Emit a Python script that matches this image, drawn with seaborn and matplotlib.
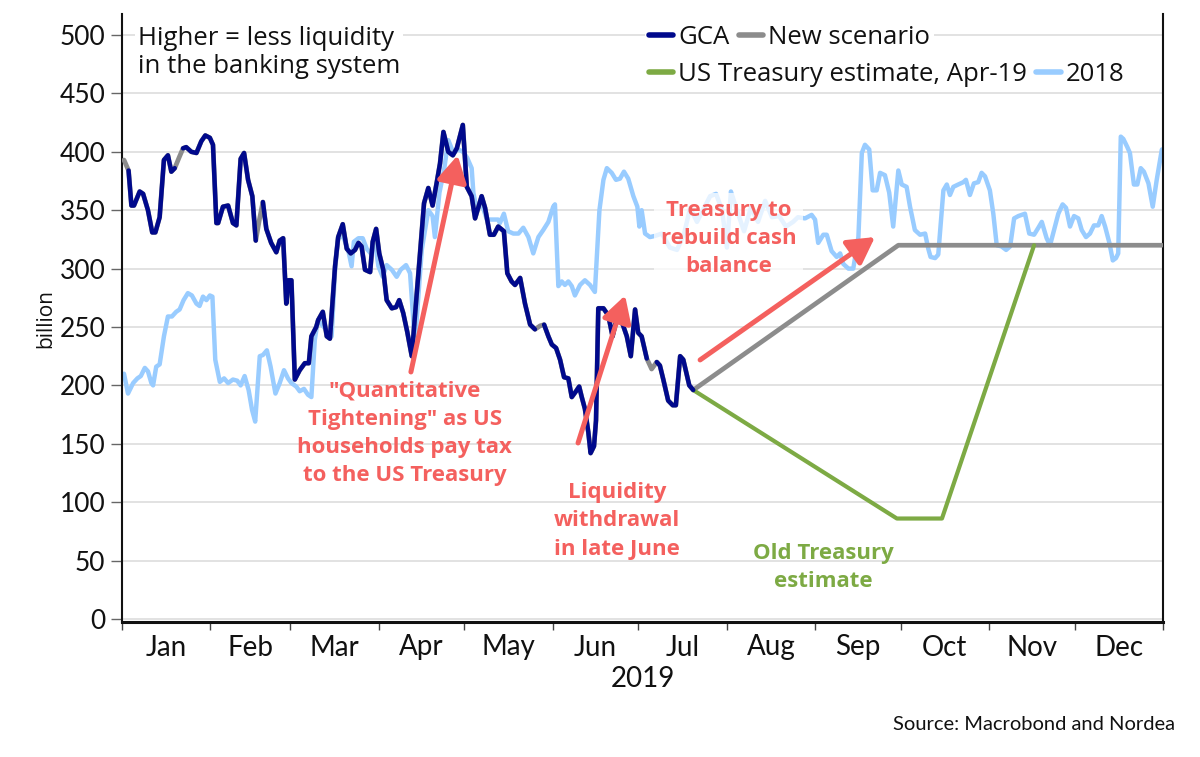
import numpy as np
import pandas as pd
import matplotlib
matplotlib.use("Agg")
import matplotlib.pyplot as plt
import seaborn as sns
from matplotlib.lines import Line2D

# ---------------- data ----------------
month_labels = ["Jan", "Feb", "Mar", "Apr", "May", "Jun",
                "Jul", "Aug", "Sep", "Oct", "Nov", "Dec"]
month_start_days = [0, 31, 59, 90, 120, 151, 181, 212, 243, 273, 304, 334, 365]
y_ticks = [0, 50, 100, 150, 200, 250, 300, 350, 400, 450, 500]

gca_day = [0.7, 2.3, 3.3, 4.2, 6.2, 7.4, 9.1, 10.6, 11.7, 13.2, 14.7, 16.1, 17.3, 18.5,
           20.0, 21.4, 22.5, 24.3, 26.1, 27.8, 29.2, 30.8, 31.9, 33.1, 33.7, 35.4, 37.2,
           38.9, 40.1, 41.6, 42.8, 44.2, 45.7, 46.9, 48.1, 49.4, 50.6, 52.3, 54.1, 55.3,
           56.5, 57.6, 58.4, 59.4, 60.6, 62.3, 64.1, 65.5, 66.4, 68.1, 68.8, 70.4, 71.8,
           72.9, 74.7, 75.8, 77.4, 78.8, 80.2, 81.7, 82.9, 84.0, 85.2, 87.0, 87.9, 89.1,
           90.2, 91.6, 92.8, 94.6, 96.1, 97.2, 98.6, 100.0, 101.6, 102.7, 104.5, 105.9,
           107.4, 108.9, 110.3, 111.5, 112.7, 114.4, 116.0, 117.4, 119.5, 120.9, 122.6,
           123.8, 126.1, 127.3, 129.0, 130.4, 131.9, 133.9, 135.1, 136.6, 137.8, 139.6,
           141.3, 143.1, 144.8, 146.6, 148.0, 149.5, 150.7, 152.2, 153.6, 155.0, 156.5,
           157.7, 159.2, 160.3, 161.2, 162.3, 163.5, 164.3, 165.5, 166.2, 167.0, 168.8,
           170.5, 172.0, 174.0, 175.6, 177.0, 178.4, 179.9, 181.0, 182.2, 184.0, 185.7,
           187.5, 188.6, 189.8, 191.5, 193.1, 194.2, 195.7, 196.8, 198.9, 200.3]
gca_val = [393, 384, 354, 354, 366, 364, 350, 331, 331, 344, 393, 397, 383, 386,
           395, 403, 404, 400, 399, 409, 414, 412, 406, 339, 339, 353, 354,
           339, 337, 394, 399, 376, 362, 324, 341, 357, 334, 322, 314, 324,
           326, 270, 290, 290, 205, 213, 219, 219, 242, 250, 256, 263, 242,
           240, 302, 327, 338, 317, 313, 316, 322, 319, 299, 297, 323, 334,
           313, 299, 273, 266, 267, 273, 262, 246, 225, 259, 313, 356,
           369, 354, 373, 390, 417, 400, 397, 403, 423, 370, 362,
           343, 362, 352, 329, 329, 336, 332, 296, 289, 286, 292,
           270, 252, 248, 251, 252, 242, 235, 232, 222, 207, 206,
           190, 195, 199, 190, 180, 160, 142, 148, 170, 266, 266,
           260, 242, 263, 252, 242, 225, 265, 245, 242, 223, 214,
           220, 217, 205, 187, 183, 183, 225, 222, 200, 196]
# days where GCA has no print (bridged by the new-scenario line)
gca_break_days = [0.7, 20.0, 48.1, 146.6, 185.7]

new_scenario_day = [200.3, 272.2, 364.6]
new_scenario_val = [196, 320, 320]

treasury_day = [200.3, 271.7, 287.5, 319.8]
treasury_val = [196, 86, 86, 320]

y2018_day = [0.7, 2.1, 3.9, 5.4, 6.6, 8.0, 9.1, 10.3, 10.9, 12.0, 13.2, 14.7, 16.1, 17.5,
             19.0, 20.2, 21.6, 23.1, 24.5, 26.1, 27.2, 28.4, 29.6, 30.8, 31.7, 32.7, 34.3,
             35.8, 37.2, 38.9, 40.4, 41.6, 43.0, 44.4, 45.6, 46.7, 48.3, 49.4, 50.8, 52.1,
             53.8, 55.3, 56.8, 58.2, 59.4, 61.1, 62.3, 63.8, 65.2, 66.4, 67.6, 68.7, 71.8,
             73.5, 74.7, 75.8, 77.6, 79.3, 80.5, 81.3, 82.9, 84.4, 85.8, 87.2, 88.7, 89.9,
             91.4, 92.8, 94.6, 96.3, 97.7, 99.6, 101.0, 102.7, 105.1, 107.4, 108.9, 109.7,
             111.3, 112.9, 114.4, 116.2, 117.9, 119.6, 121.0, 122.6, 123.2, 124.4, 126.1,
             127.9, 129.6, 131.9, 132.5, 133.9, 135.4, 137.2, 139.0, 140.7, 142.5, 144.2,
             146.0, 147.7, 149.5, 151.2, 151.8, 153.0, 154.2, 155.3, 156.5, 157.7, 158.8,
             160.6, 162.3, 164.1, 165.8, 167.4, 168.8, 170.0, 171.7, 173.2, 174.6, 176.0,
             177.5, 179.3, 180.7, 181.4, 182.2, 183.4, 185.1, 186.9, 189.3, 192.1, 194.6,
             197.1, 199.2, 201.6, 203.7, 206.2, 208.3, 210.4, 212.1, 213.5, 215.6, 218.1,
             220.5, 223.0, 225.5, 227.9, 230.4, 232.8, 235.3, 237.0, 239.5, 241.8, 243.0,
             244.1, 245.9, 247.1, 248.8, 250.6, 251.8, 252.9, 254.7, 256.4, 258.2, 259.4,
             260.5, 262.0, 263.2, 264.6, 265.8, 267.5, 269.0, 270.4, 272.2, 273.4, 275.1,
             276.3, 278.0, 279.8, 281.6, 282.7, 283.5, 285.1, 286.2, 288.0, 289.2, 290.3,
             291.5, 293.2, 295.0, 295.9, 297.3, 298.7, 300.2, 301.4, 302.6, 304.3, 305.5,
             306.7, 308.4, 310.0, 311.4, 312.8, 314.3, 316.6, 318.1, 319.8, 321.3, 322.5,
             324.2, 325.4, 326.8, 328.3, 329.8, 331.0, 332.4, 333.8, 335.3, 336.5, 338.0,
             339.4, 340.8, 342.3, 343.5, 344.7, 346.2, 347.4, 348.5, 349.3, 350.2, 351.1,
             352.5, 353.4, 354.8, 356.0, 357.2, 358.3, 359.9, 361.4, 362.8, 364.6]
y2018_val = [210, 193, 202, 206, 208, 215, 212, 202, 200, 216, 218, 242, 259, 259,
             263, 265, 273, 279, 277, 270, 268, 276, 273, 277, 276, 222, 203,
             206, 202, 205, 204, 200, 208, 196, 179, 169, 225, 226, 230, 216,
             193, 202, 213, 206, 202, 199, 195, 197, 192, 190, 239, 256, 247,
             242, 299, 327, 327, 316, 302, 323, 326, 326, 317, 313, 323, 302,
             293, 303, 299, 293, 299, 303, 296, 236, 316, 350, 345, 327,
             365, 384, 410, 399, 402, 400, 395, 386, 365, 350, 356,
             342, 342, 342, 339, 347, 332, 330, 330, 335, 327, 313,
             327, 333, 340, 353, 355, 285, 289, 286, 289, 285, 277,
             286, 290, 286, 280, 350, 376, 386, 382, 376, 377, 383,
             377, 362, 353, 336, 350, 330, 327, 328, 330, 318, 316,
             330, 352, 340, 350, 362, 364, 350, 318, 366, 350, 332,
             352, 340, 358, 344, 345, 336, 340, 344, 343, 346, 342,
             322, 329, 329, 315, 310, 313, 304, 300, 300, 327, 399,
             406, 402, 367, 367, 382, 380, 365, 336, 384, 372, 370,
             353, 333, 329, 330, 317, 310, 309, 312, 367, 372, 363,
             370, 372, 374, 376, 363, 373, 374, 382, 379, 367, 347,
             320, 319, 316, 319, 343, 345, 347, 330, 329, 335, 340,
             326, 320, 333, 347, 355, 352, 336, 345, 343, 333, 327,
             330, 337, 337, 345, 336, 322, 307, 309, 313, 413, 411,
             404, 399, 372, 372, 386, 383, 373, 353, 376, 402]

# ---------------- style ----------------
sns.set_theme(style="white")
plt.rcParams["font.family"] = ["Lato", "DejaVu Sans"]
TXT_FONT = ["Open Sans", "DejaVu Sans"]

NAVY = "#00098C"
GRAY = "#8C8C8C"
GREEN = "#7DAA44"
LIGHT = "#99CCFF"
RED = "#F4605E"

fig = plt.figure(figsize=(12, 7.57), dpi=100)
ax = fig.add_axes([122 / 1200, 1 - 622 / 757, 1041 / 1200, 608 / 757])

# 2018 (bottom layer)
sns.lineplot(x=y2018_day, y=y2018_val, color=LIGHT, lw=3.2, estimator=None,
             sort=False, ax=ax, zorder=2)

# new scenario: bridges GCA gaps and projects forward
ns_day = gca_day + new_scenario_day[1:]
ns_val = gca_val + new_scenario_val[1:]
sns.lineplot(x=ns_day, y=ns_val, color=GRAY, lw=3.4, estimator=None,
             sort=False, ax=ax, zorder=3)

# US Treasury estimate
sns.lineplot(x=treasury_day, y=treasury_val, color=GREEN, lw=3.0, estimator=None,
             sort=False, ax=ax, zorder=3)

# GCA in segments (break at missing prints)
seg, seg_ids, keep = 0, [], []
for d in gca_day:
    if d in gca_break_days:
        seg += 1
        keep.append(False)
    else:
        keep.append(True)
    seg_ids.append(seg)
gca_df = pd.DataFrame({"day": gca_day, "val": gca_val, "seg": seg_ids})[keep]
sns.lineplot(data=gca_df, x="day", y="val", units="seg", estimator=None,
             color=NAVY, lw=3.2, sort=False, ax=ax, zorder=4)

# ---------------- axes ----------------
ax.set_xlim(0, 365)
ax.set_ylim(-2.6, 518)
ax.set_yticks(y_ticks)
ax.set_yticklabels([str(v) for v in y_ticks])
ax.set_xticks(month_start_days)
ax.set_xticklabels([""] * len(month_start_days))
mids = [(month_start_days[i] + month_start_days[i + 1]) / 2 for i in range(12)]
ax.set_xticks(mids, minor=True)
ax.set_xticklabels(month_labels, minor=True)
ax.tick_params(axis="x", which="major", length=6, width=1, color="#444444",
               direction="out", bottom=True)
ax.tick_params(axis="x", which="minor", length=0, labelsize=20, pad=9, colors="#111111")
ax.tick_params(axis="y", length=8, width=1, color="#666666", direction="out",
               left=True, labelsize=19, pad=4, labelcolor="#111111")
ax.yaxis.grid(True, color="#dddddd", lw=1.2)
ax.set_axisbelow(True)
for side in ["left", "right", "bottom"]:
    ax.spines[side].set_visible(True)
    ax.spines[side].set_color("#111111")
ax.spines["left"].set_linewidth(1.5)
ax.spines["right"].set_linewidth(1.5)
ax.spines["bottom"].set_linewidth(2.2)
ax.spines["top"].set_visible(False)
ax.set_xlabel("2019", fontsize=20, color="#111111", labelpad=4)
ax.set_ylabel("billion", fontsize=15, color="#111111", labelpad=2, family=TXT_FONT)

# ---------------- annotations ----------------
arrow_kw = dict(arrowstyle="-|>,head_length=0.8,head_width=0.45", color=RED, lw=3.6,
                mutation_scale=20, shrinkA=0, shrinkB=0)
ax.annotate("", xy=(117.7, 397), xytext=(101.3, 211.5), arrowprops=arrow_kw, zorder=6)
ax.annotate("", xy=(176.4, 277), xytext=(159.9, 150.7), arrowprops=arrow_kw, zorder=6)
ax.annotate("", xy=(264.0, 327), xytext=(202.7, 221.8), arrowprops=arrow_kw, zorder=6)

red_kw = dict(ha="center", va="center", fontsize=16, fontweight="bold",
              linespacing=1.45, zorder=7, family=TXT_FONT)
ax.text(99.2, 159, "\"Quantitative\nTightening\" as US\nhouseholds pay tax\nto the US Treasury",
        color=RED, **red_kw)
ax.text(173.6, 84, "Liquidity\nwithdrawal\nin late June", color=RED, **red_kw)
ax.text(212.8, 326, "Treasury to\nrebuild cash\nbalance", color=RED,
        bbox=dict(boxstyle="square,pad=0.3", facecolor="white", edgecolor="none", alpha=0.75),
        **red_kw)
ax.text(245.8, 44, "Old Treasury\nestimate", color=GREEN, **red_kw)
ax.text(5.6, 485, "Higher = less liquidity\nin the banking system", ha="left", va="center",
        color="#111111", fontsize=18.5, linespacing=1.18, zorder=7, family=TXT_FONT,
        bbox=dict(boxstyle="square,pad=0.1", facecolor="white", edgecolor="none"))

# ---------------- legend ----------------
h_gca = Line2D([], [], color=NAVY, lw=4)
h_ns = Line2D([], [], color=GRAY, lw=4)
h_tr = Line2D([], [], color=GREEN, lw=4)
h_18 = Line2D([], [], color=LIGHT, lw=4)
leg_kw = dict(loc="center left", ncol=2, frameon=True,
              prop={"family": TXT_FONT, "size": 18.5}, handlelength=0.95,
              handletextpad=0.2, columnspacing=0.35, borderaxespad=0, borderpad=0.15,
              facecolor="white", edgecolor="none", framealpha=1, fancybox=False)
leg1 = ax.legend([h_gca, h_ns], ["GCA", "New scenario"],
                 bbox_to_anchor=((645 - 122) / 1041, 0.962), **leg_kw)
for t in leg1.get_texts():
    t.set_color("#111111")
ax.add_artist(leg1)
leg2 = ax.legend([h_tr, h_18], ["US Treasury estimate, Apr-19", "2018"],
                 bbox_to_anchor=((645 - 122) / 1041, 0.900), **leg_kw)
for t in leg2.get_texts():
    t.set_color("#111111")

fig.text(1175 / 1200, 1 - 725 / 757, "Source: Macrobond and Nordea", ha="right",
         va="center", fontsize=14.5, color="#111111")

fig.savefig("out.png", dpi=100, facecolor="white")
